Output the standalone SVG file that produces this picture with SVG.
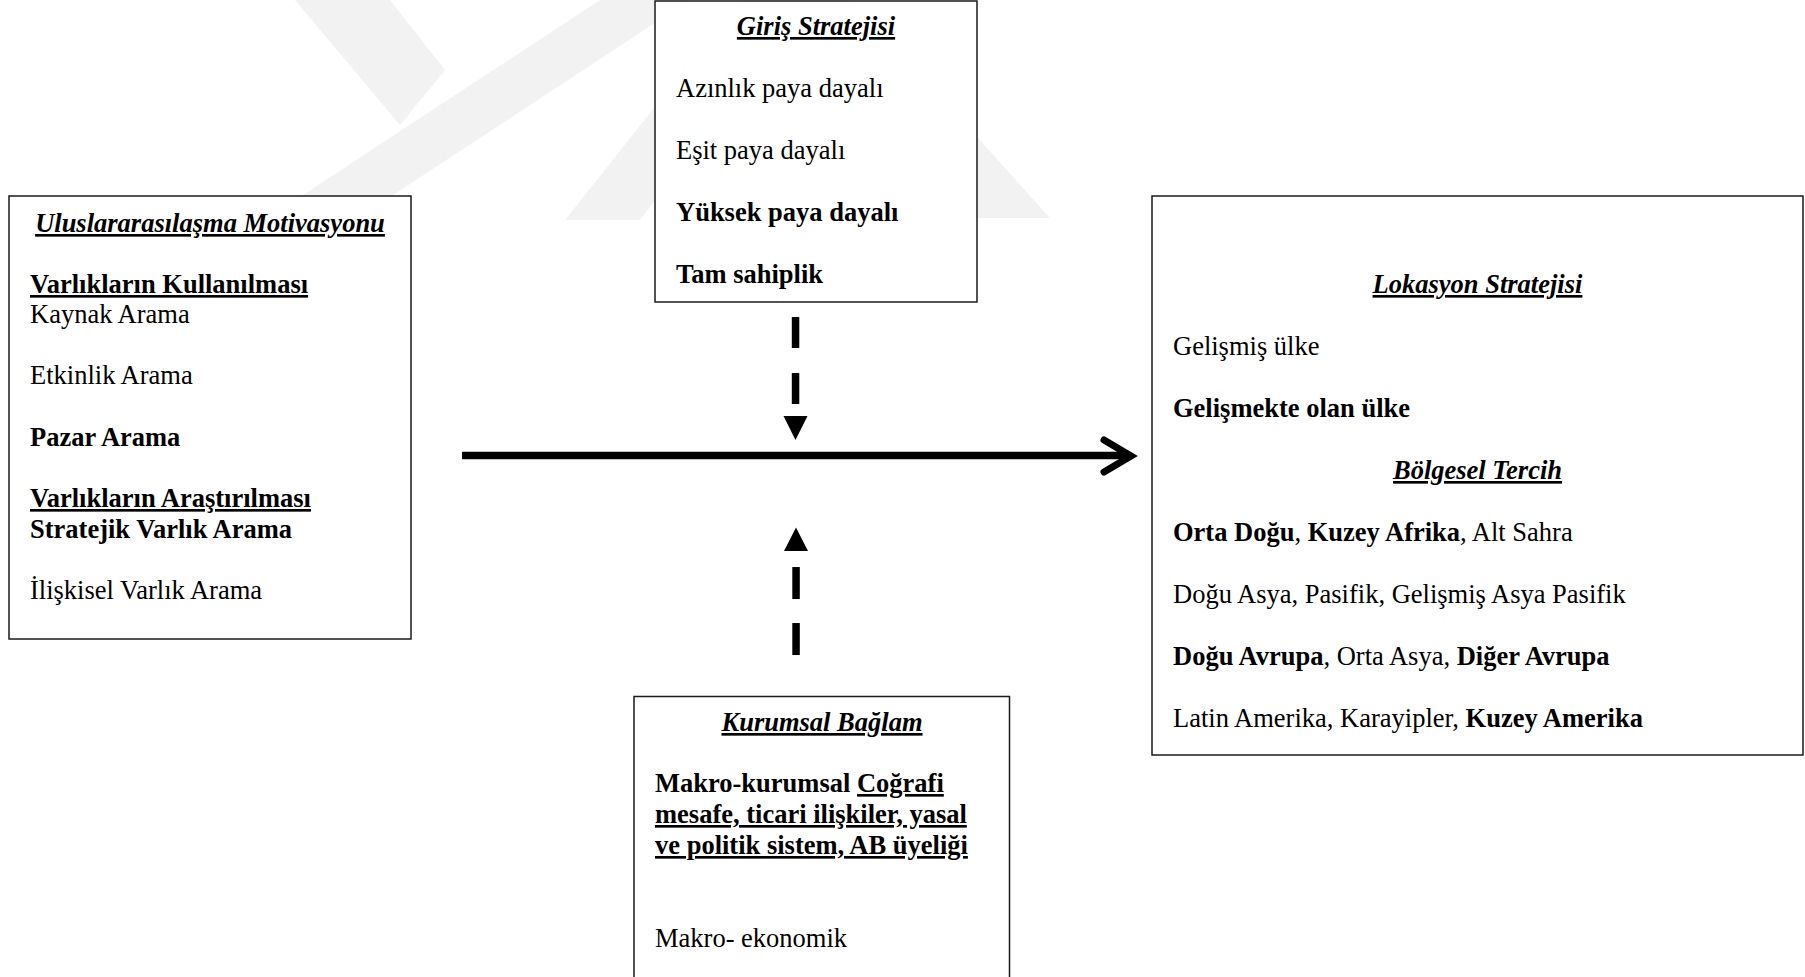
<svg xmlns="http://www.w3.org/2000/svg" width="1805" height="977" viewBox="0 0 1805 977">
<style>
  text { font-family: "Liberation Serif", "Times New Roman", serif; font-size: 26.5px; fill: #000; }
  .b { font-weight: bold; }
  .bi { font-weight: bold; font-style: italic; }
  .u { text-decoration: underline; text-decoration-thickness: 2.5px; }
  .box { fill: #fff; stroke: #1a1a1a; stroke-width: 1.5; }
  .wm { fill: #f2f2f2; }
  .dash { fill: #000; }
</style>
<rect x="0" y="0" width="1805" height="977" fill="#fff"/>
<g id="watermark">
  <polygon class="wm" points="295,0 390,0 445,70 400,125"/>
  <polygon class="wm" points="600,0 690,0 355,220 265,220"/>
  <polygon class="wm" points="740,0 810,0 640,220 565,220"/>
  <polygon class="wm" points="764,0 854,0 1050,218 960,218"/>
</g>
<g id="connectors">
  <line x1="462" y1="455.5" x2="1128" y2="455.5" stroke="#000" stroke-width="7.5"/>
  <polyline points="1104,440 1131,456 1104,472" fill="none" stroke="#000" stroke-width="7" stroke-linecap="round" stroke-linejoin="miter"/>
  <rect class="dash" x="791.8" y="317" width="7.5" height="31"/>
  <rect class="dash" x="791.8" y="373" width="7.5" height="31"/>
  <polygon class="dash" points="783.5,416 807.5,416 795.5,440"/>
  <polygon class="dash" points="784,551 808,551 796,527.5"/>
  <rect class="dash" x="792.3" y="567" width="7.5" height="32"/>
  <rect class="dash" x="792.3" y="623" width="7.5" height="32"/>
</g>
<g id="motivasyon">
  <rect class="box" x="9" y="196" width="402" height="443"/>
  <text x="210" y="232" text-anchor="middle" class="bi u">Uluslararasılaşma Motivasyonu</text>
  <text x="30" y="293" class="b u">Varlıkların Kullanılması</text>
  <text x="30" y="323">Kaynak Arama</text>
  <text x="30" y="384">Etkinlik Arama</text>
  <text x="30" y="446" class="b">Pazar Arama</text>
  <text x="30" y="507" class="b u">Varlıkların Araştırılması</text>
  <text x="30" y="538" class="b">Stratejik Varlık Arama</text>
  <text x="30" y="599">İlişkisel Varlık Arama</text>
</g>
<g id="giris">
  <rect class="box" x="655" y="1" width="322" height="301"/>
  <text x="816" y="35" text-anchor="middle" class="bi u">Giriş Stratejisi</text>
  <text x="676" y="97">Azınlık paya dayalı</text>
  <text x="676" y="159">Eşit paya dayalı</text>
  <text x="676" y="221" class="b">Yüksek paya dayalı</text>
  <text x="676" y="283" class="b">Tam sahiplik</text>
</g>
<g id="lokasyon">
  <rect class="box" x="1152" y="196" width="651" height="559"/>
  <text x="1477.5" y="293" text-anchor="middle" class="bi u">Lokasyon Stratejisi</text>
  <text x="1173" y="355">Gelişmiş ülke</text>
  <text x="1173" y="417" class="b">Gelişmekte olan ülke</text>
  <text x="1477.5" y="479" text-anchor="middle" class="bi u">Bölgesel Tercih</text>
  <text x="1173" y="541"><tspan class="b">Orta Doğu</tspan>, <tspan class="b">Kuzey Afrika</tspan>, Alt Sahra</text>
  <text x="1173" y="603">Doğu Asya, Pasifik, Gelişmiş Asya Pasifik</text>
  <text x="1173" y="665"><tspan class="b">Doğu Avrupa</tspan>, Orta Asya, <tspan class="b">Diğer Avrupa</tspan></text>
  <text x="1173" y="727">Latin Amerika, Karayipler, <tspan class="b">Kuzey Amerika</tspan></text>
</g>
<g id="kurumsal">
  <rect class="box" x="634" y="696.5" width="375.5" height="290"/>
  <text x="822" y="731" text-anchor="middle" class="bi u">Kurumsal Bağlam</text>
  <text x="655" y="792" class="b">Makro-kurumsal <tspan class="u">Coğrafi</tspan></text>
  <text x="655" y="823" class="b u">mesafe, ticari ilişkiler, yasal</text>
  <text x="655" y="854" class="b u">ve politik sistem, AB üyeliği</text>
  <text x="655" y="947">Makro- ekonomik</text>
</g>
</svg>
